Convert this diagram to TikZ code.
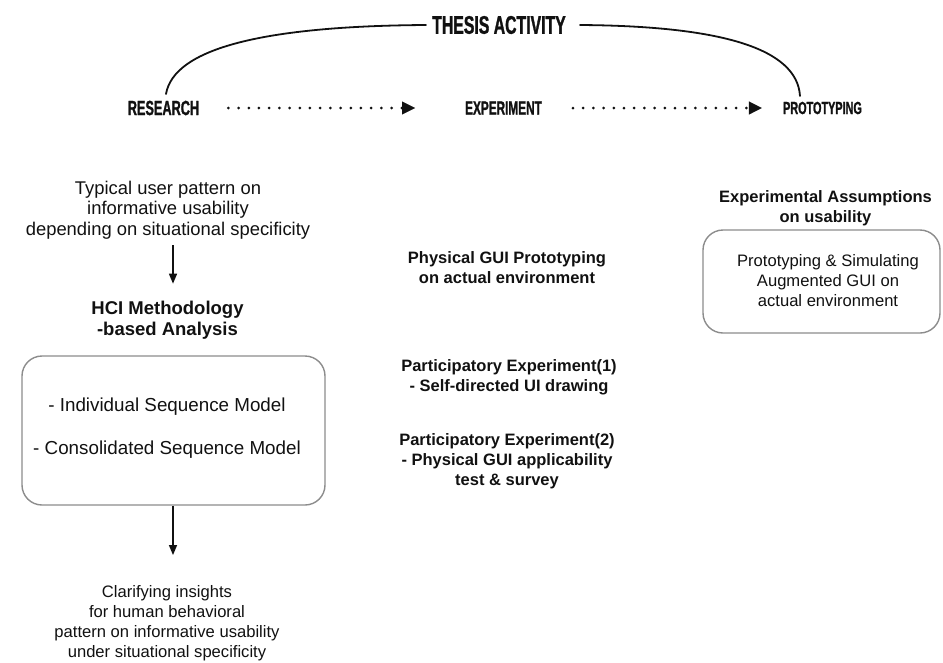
\documentclass[tikz,border=0pt]{standalone}
\usepackage{fontspec}
\setmainfont{Liberation Sans}
\newfontfamily\headfont[FakeStretch=0.62,FakeBold=1.2]{Liberation Sans}
\usetikzlibrary{arrows.meta}
\definecolor{boxgray}{HTML}{8C8C8C}
\definecolor{ink}{HTML}{111111}
\begin{document}
\begin{tikzpicture}[x=1pt,y=-1pt,
  txt/.style={align=center,inner sep=0pt,text=ink},
  bigtxt/.style={txt,font=\fontsize{18.4}{20.5}\selectfont},
  bigbold/.style={txt,font=\fontsize{18.5}{21}\selectfont\bfseries},
  smalltxt/.style={txt,font=\fontsize{16.6}{20}\selectfont},
  smallbold/.style={txt,font=\fontsize{16.5}{20}\selectfont\bfseries},
  head/.style={inner sep=0pt,text=ink,font=\headfont\bfseries\fontsize{#1}{#1}\selectfont},
  panel/.style={draw=boxgray,line width=1.4pt,rounded corners=20pt,inner sep=0pt},
  downarrow/.style={draw=ink,line width=1.4pt,-{Triangle[length=10pt,width=8pt]}},
  dotarrow/.style={draw=ink,line width=3pt,line cap=round,dash pattern=on 0pt off 10.2pt,
    -{Triangle[length=13pt,width=13pt,line width=0.4pt]}},
  arc/.style={draw=ink,line width=1.8pt,line cap=round}
]
\useasboundingbox (0,0) rectangle (943,662);

% top heading and the three stages
\node[head=25.5] (thesis) at (499,25) {THESIS ACTIVITY};
\node[head=20.5] (research) at (163.5,108) {RESEARCH};
\node[head=19] (experiment) at (503.5,108) {EXPERIMENT};
\node[head=17.5] (prototyping) at (822.5,108) {PROTOTYPING};

\coordinate (arcL) at (166,94);
\coordinate (arcR) at (800,96);
\draw[arc] (arcL) .. controls (174,48) and (265,26) .. ([xshift=-6pt]thesis.west);
\draw[arc] ([xshift=14pt]thesis.east) .. controls (720,26) and (797,48) .. (arcR);

\draw[dotarrow,shorten <=29pt,shorten >=50pt] (research.east) -- (experiment.west);
\draw[dotarrow,shorten <=31pt,shorten >=21pt] (experiment.east) -- (prototyping.west);

% research column
\node[bigtxt] (typical) at (168,210) {Typical user pattern on\\informative usability\\depending on situational specificity};
\node[bigbold] (hci) at (167.5,320) {HCI Methodology\\-based Analysis};
\node[panel,minimum width=303pt,minimum height=149pt] (seqbox) at (173.5,430.5) {};
\node[txt,font=\fontsize{18.8}{21}\selectfont] (seqtxt) at (167,428.5) {- Individual Sequence Model\\[22pt]- Consolidated Sequence Model};
\node[smalltxt] (insight) at (167,623) {Clarifying insights\\for human behavioral\\pattern on informative usability\\under situational specificity};

\coordinate (colx) at (173,0);
\draw[downarrow,shorten <=6pt,shorten >=17pt] (typical.south -| colx) -- (hci.north -| colx);
\draw[downarrow,shorten >=30pt] (seqbox.south -| colx) -- (insight.north -| colx);

% experiment column
\node[smallbold] (physical) at (507,268) {Physical GUI Prototyping\\on actual environment};
\node[smallbold] (part1) at (509,377) {Participatory Experiment(1)\\- Self-directed UI drawing};
\node[smallbold] (part2) at (507,461) {Participatory Experiment(2)\\- Physical GUI applicability\\test \& survey};

% prototyping column
\node[smallbold] (assume) at (825.5,208) {Experimental Assumptions\\on usability};
\node[panel,minimum width=237pt,minimum height=103pt] (protobox) at (821.5,281.5) {};
\node[smalltxt] (prototxt) at (828,281) {Prototyping \& Simulating\\Augmented GUI on\\actual environment};
\end{tikzpicture}
\end{document}
